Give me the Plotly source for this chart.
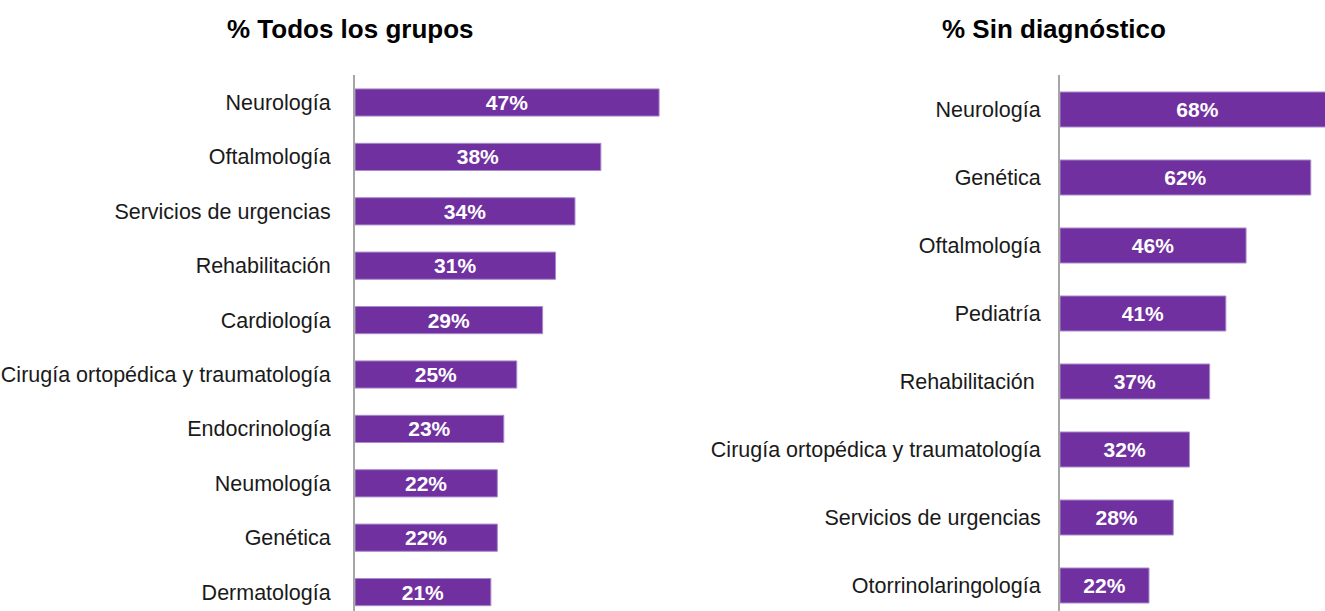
import plotly.graph_objects as go

# Left panel: all groups
todos_cats = ["Neurología", "Oftalmología", "Servicios de urgencias", "Rehabilitación",
              "Cardiología", "Cirugía ortopédica y traumatología", "Endocrinología",
              "Neumología", "Genética", "Dermatología"]
todos_vals = [47, 38, 34, 31, 29, 25, 23, 22, 22, 21]

# Right panel: undiagnosed
sin_cats = ["Neurología", "Genética", "Oftalmología", "Pediatría", "Rehabilitación ",
            "Cirugía ortopédica y traumatología", "Servicios de urgencias",
            "Otorrinolaringología"]
sin_vals = [68, 62, 46, 41, 37, 32, 28, 22]

titles = ["% Todos los grupos", "% Sin diagnóstico"]

W, H = 1325, 611
PURPLE = "#7030A0"
EDGE = "#a98bcb"
FONT = "Liberation Sans, Arial, sans-serif"
top_px = 75
ydom = [0, 1 - top_px / H]

fig = go.Figure()

fig.add_trace(go.Bar(
    x=todos_vals, y=todos_cats, orientation="h", width=0.5,
    marker=dict(color=PURPLE, line=dict(color=EDGE, width=1)),
    text=[f"{v}%" for v in todos_vals], textposition="inside",
    insidetextanchor="middle", textangle=0, constraintext="none",
    textfont=dict(family=FONT, size=21, color="white", weight="bold"),
    xaxis="x", yaxis="y", showlegend=False, hoverinfo="skip",
))

fig.add_trace(go.Bar(
    x=sin_vals, y=sin_cats, orientation="h", width=0.515,
    marker=dict(color=PURPLE, line=dict(color=EDGE, width=1)),
    text=[f"{v}%" for v in sin_vals], textposition="inside",
    insidetextanchor="middle", textangle=0, constraintext="none",
    textfont=dict(family=FONT, size=21, color="white", weight="bold"),
    xaxis="x2", yaxis="y2", showlegend=False, hoverinfo="skip",
))

# pixel scales of the two value axes
left_x0, left_x1, left_ppu = 355, 680, 6.47
right_x0, right_x1, right_ppu = 1060, W, 4.045

hidden_x = dict(showline=False, showticklabels=False, showgrid=False, zeroline=False, ticks="")

fig.update_layout(
    width=W, height=H,
    margin=dict(l=0, r=0, t=0, b=0),
    paper_bgcolor="white", plot_bgcolor="white",
    font=dict(family=FONT, color="#1a1a1a"),
    xaxis=dict(domain=[left_x0 / W, left_x1 / W],
               range=[0, (left_x1 - left_x0) / left_ppu], anchor="y", **hidden_x),
    xaxis2=dict(domain=[right_x0 / W, right_x1 / W],
                range=[0, (right_x1 - right_x0) / right_ppu], anchor="y2", **hidden_x),
    yaxis=dict(domain=ydom, anchor="x", type="category",
               range=[(H - 102.5) / 54.4, (top_px - 102.5) / 54.4],
               showline=True, linecolor="#a6a6a6", linewidth=2, showgrid=False,
               zeroline=False, ticks="", ticklabelstandoff=18,
               tickfont=dict(family=FONT, size=21.5, color="#1a1a1a")),
    yaxis2=dict(domain=ydom, anchor="x2", type="category",
                range=[(H - 109.5) / 68.0, (top_px - 109.5) / 68.0],
                showline=True, linecolor="#a6a6a6", linewidth=2, showgrid=False,
                zeroline=False, ticks="", ticklabelstandoff=13,
                tickfont=dict(family=FONT, size=21.5, color="#1a1a1a")),
    annotations=[
        dict(text=f"<b>{titles[0]}</b>", x=350 / W, y=1 - 29 / H, xref="paper", yref="paper",
             xanchor="center", yanchor="middle", showarrow=False,
             font=dict(family=FONT, size=26, color="#000000")),
        dict(text=f"<b>{titles[1]}</b>", x=1054 / W, y=1 - 29 / H, xref="paper", yref="paper",
             xanchor="center", yanchor="middle", showarrow=False,
             font=dict(family=FONT, size=26, color="#000000")),
    ],
)

fig.write_html("out.html")
